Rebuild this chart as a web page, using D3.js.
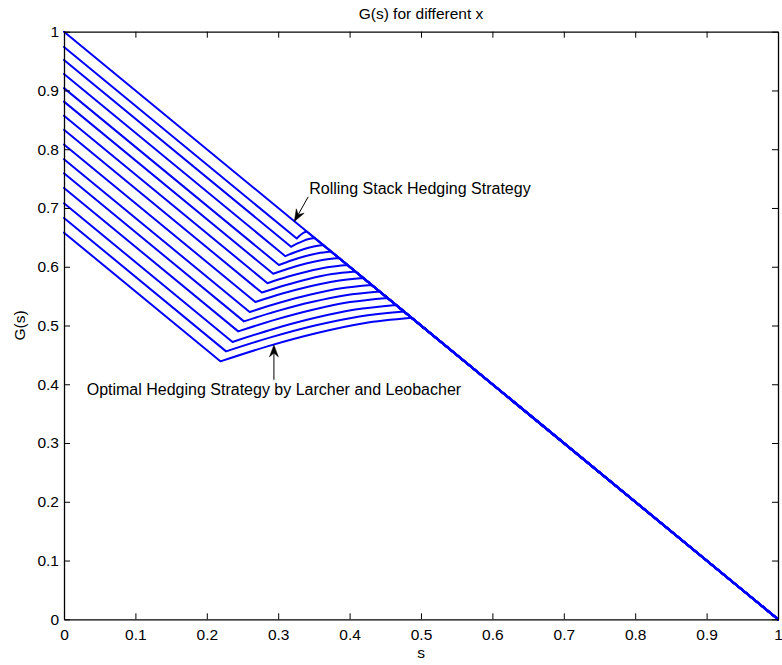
<!DOCTYPE html>
<html>
<head>
<meta charset="utf-8">
<script src="https://cdn.jsdelivr.net/npm/d3@7"></script>
<style>
  html, body { margin: 0; padding: 0; background: #fff; }
  svg text { font-family: "Liberation Sans", Arial, Helvetica, sans-serif; fill: #000; }
</style>
</head>
<body>
<svg id="chart" width="782" height="665"></svg>
<script>
// ---- data -------------------------------------------------------------
// Starting value G(0) of each curve; the first one is the plain line G = 1 - s
const startG = [1.000, 0.974, 0.952, 0.928, 0.904, 0.881, 0.857, 0.833,
                0.808, 0.783, 0.759, 0.734, 0.708, 0.683, 0.658];

// Kink (minimum) of each bent curve
const kinkS = [0.326, 0.318, 0.310, 0.301, 0.293, 0.285, 0.277,
               0.268, 0.260, 0.252, 0.244, 0.236, 0.227, 0.219];
const kinkG = [0.648, 0.634, 0.618, 0.603, 0.588, 0.572, 0.556,
               0.540, 0.523, 0.507, 0.490, 0.472, 0.456, 0.439];

// Points on the rising part between the kink and the diagonal
const riseS = [
  [0.3295, 0.3330, 0.3365], [0.3263, 0.3345, 0.3428], [0.3233, 0.3365, 0.3498],
  [0.3193, 0.3375, 0.3558], [0.3160, 0.3390, 0.3620], [0.3130, 0.3410, 0.3690],
  [0.3098, 0.3425, 0.3753], [0.3058, 0.3435, 0.3813], [0.3028, 0.3455, 0.3883],
  [0.2995, 0.3470, 0.3945], [0.2963, 0.3485, 0.4008], [0.2933, 0.3505, 0.4078],
  [0.2893, 0.3515, 0.4138], [0.2860, 0.3530, 0.4200]
];
const riseG = [
  [0.6522, 0.6558, 0.6585], [0.6393, 0.6437, 0.6471], [0.6247, 0.6303, 0.6346],
  [0.6111, 0.6179, 0.6231], [0.5975, 0.6055, 0.6116], [0.5829, 0.5920, 0.5991],
  [0.5686, 0.5793, 0.5875], [0.5544, 0.5665, 0.5759], [0.5391, 0.5527, 0.5633],
  [0.5249, 0.5400, 0.5516], [0.5100, 0.5268, 0.5399], [0.4941, 0.5127, 0.5271],
  [0.4798, 0.5000, 0.5155], [0.4649, 0.4868, 0.5038]
];

// Point where each bent curve rejoins the diagonal
const joinS = [0.340, 0.351, 0.363, 0.374, 0.385, 0.397, 0.408,
               0.419, 0.431, 0.442, 0.453, 0.465, 0.476, 0.487];
const joinG = [0.660, 0.649, 0.637, 0.626, 0.615, 0.603, 0.592,
               0.581, 0.569, 0.558, 0.547, 0.535, 0.524, 0.513];

const endPoint = [1, 0];

const xTicks = [0, 0.1, 0.2, 0.3, 0.4, 0.5, 0.6, 0.7, 0.8, 0.9, 1];
const xTickLabels = ["0", "0.1", "0.2", "0.3", "0.4", "0.5", "0.6", "0.7", "0.8", "0.9", "1"];
const yTicks = [0, 0.1, 0.2, 0.3, 0.4, 0.5, 0.6, 0.7, 0.8, 0.9, 1];
const yTickLabels = ["0", "0.1", "0.2", "0.3", "0.4", "0.5", "0.6", "0.7", "0.8", "0.9", "1"];

const titleText = "G(s) for different x";
const xLabel = "s";
const yLabel = "G(s)";

// Annotations: text with an arrow pointing at a curve (data coordinates)
const noteRolling = { text: "Rolling Stack Hedging Strategy", tail: [0.342, 0.719], tip: [0.3226, 0.677] };
const noteOptimal = { text: "Optimal Hedging Strategy by Larcher and Leobacher", tail: [0.294, 0.4075], tip: [0.294, 0.467] };

// ---- layout -----------------------------------------------------------
const plotLeft = 64, plotRight = 778, plotTop = 31.7, plotBottom = 619.3;
const fontSize = 15.5;
const svg = d3.select("#chart");

const x = d3.scaleLinear().domain([0, 1]).range([plotLeft, plotRight]);
const y = d3.scaleLinear().domain([0, 1]).range([plotBottom, plotTop]);

// ---- curves -----------------------------------------------------------
const lin = d3.line().x(d => x(d[0])).y(d => y(d[1]));
const smooth = d3.line().x(d => x(d[0])).y(d => y(d[1])).curve(d3.curveMonotoneX);

const curvesG = svg.append("g")
  .attr("fill", "none")
  .attr("stroke", "#0000ff")
  .attr("stroke-width", 2)
  .attr("stroke-linejoin", "round")
  .attr("stroke-linecap", "round");

// straight line G = 1 - s
curvesG.append("path").attr("d", lin([[0, startG[0]], endPoint]));

// bent curves
kinkS.forEach((sk, i) => {
  const start = [0, startG[i + 1]];
  const kink = [sk, kinkG[i]];
  const join = [joinS[i], joinG[i]];
  const rise = [kink, ...riseS[i].map((s, j) => [s, riseG[i][j]]), join];
  const d = lin([start, kink]) +
            smooth(rise).replace(/^M/, "L") +
            lin([join, endPoint]).replace(/^M/, "L");
  curvesG.append("path").attr("d", d);
});

// ---- axes (box with inward ticks) -------------------------------------
const tickLen = 6;
function styleAxis(g) {
  g.selectAll("path.domain").attr("stroke", "#000").attr("stroke-width", 1.3).attr("fill", "none");
  g.selectAll(".tick line").attr("stroke", "#000").attr("stroke-width", 1);
  g.selectAll(".tick text").attr("font-size", fontSize).attr("font-family", "Liberation Sans, Arial, sans-serif");
}

svg.append("g")
  .attr("transform", `translate(0,${plotBottom})`)
  .call(d3.axisBottom(x).tickValues(xTicks).tickFormat((d, i) => xTickLabels[i])
        .tickSizeInner(-tickLen).tickSizeOuter(0).tickPadding(9.7))
  .call(styleAxis);

svg.append("g")
  .attr("transform", `translate(0,${plotTop})`)
  .call(d3.axisTop(x).tickValues(xTicks).tickFormat("")
        .tickSizeInner(-tickLen).tickSizeOuter(0))
  .call(styleAxis);

svg.append("g")
  .attr("transform", `translate(${plotLeft},0)`)
  .call(d3.axisLeft(y).tickValues(yTicks).tickFormat((d, i) => yTickLabels[i])
        .tickSizeInner(-tickLen).tickSizeOuter(0).tickPadding(5))
  .call(styleAxis);

svg.append("g")
  .attr("transform", `translate(${plotRight},0)`)
  .call(d3.axisRight(y).tickValues(yTicks).tickFormat("")
        .tickSizeInner(-tickLen).tickSizeOuter(0))
  .call(styleAxis);

// ---- title and axis labels --------------------------------------------
svg.append("text")
  .attr("x", (plotLeft + plotRight) / 2).attr("y", 19)
  .attr("text-anchor", "middle").attr("font-size", fontSize)
  .text(titleText);

svg.append("text")
  .attr("x", (plotLeft + plotRight) / 2).attr("y", 658)
  .attr("text-anchor", "middle").attr("font-size", fontSize)
  .text(xLabel);

svg.append("text")
  .attr("transform", `translate(25,${(plotTop + plotBottom) / 2}) rotate(-90)`)
  .attr("text-anchor", "middle").attr("font-size", fontSize)
  .text(yLabel);

// ---- annotations ------------------------------------------------------
function arrow(tail, tip) {
  const tx = x(tail[0]), ty = y(tail[1]);
  const hx = x(tip[0]), hy = y(tip[1]);
  const len = Math.hypot(hx - tx, hy - ty);
  const ux = (hx - tx) / len, uy = (hy - ty) / len;
  const nx = -uy, ny = ux;
  const L = 12, W = 4.5, notch = 4;
  const bx = hx - L * ux, by = hy - L * uy;
  const mx = hx - (L - notch) * ux, my = hy - (L - notch) * uy;
  svg.append("line")
    .attr("x1", tx).attr("y1", ty).attr("x2", mx).attr("y2", my)
    .attr("stroke", "#000").attr("stroke-width", 1);
  svg.append("path")
    .attr("d", `M${hx},${hy}L${bx + W * nx},${by + W * ny}L${mx},${my}L${bx - W * nx},${by - W * ny}Z`)
    .attr("fill", "#000").attr("stroke", "#000").attr("stroke-width", 0.5);
}

arrow(noteRolling.tail, noteRolling.tip);
svg.append("text")
  .attr("x", x(noteRolling.tail[0]) + 1).attr("y", 193.5)
  .attr("font-size", 16)
  .text(noteRolling.text);

arrow(noteOptimal.tail, noteOptimal.tip);
svg.append("text")
  .attr("x", x(noteOptimal.tail[0])).attr("y", 395)
  .attr("text-anchor", "middle").attr("font-size", 16)
  .text(noteOptimal.text);
</script>
</body>
</html>
